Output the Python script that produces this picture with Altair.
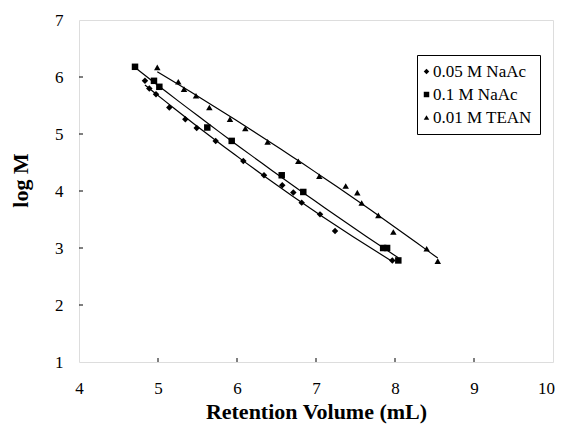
import altair as alt
import pandas as pd

series_names = ["0.05 M NaAc", "0.1 M NaAc", "0.01 M TEAN"]

x_naac005 = [4.835, 4.890, 4.975, 5.143, 5.346, 5.490, 5.730, 6.080, 6.342, 6.573, 6.713, 6.819, 7.051, 7.241, 7.966]
y_naac005 = [5.933, 5.800, 5.699, 5.466, 5.260, 5.107, 4.879, 4.527, 4.276, 4.100, 3.972, 3.796, 3.590, 3.297, 2.782]

x_naac01 = [4.709, 4.949, 5.017, 5.624, 5.933, 6.566, 6.839, 7.850, 7.900, 8.042]
y_naac01 = [6.179, 5.933, 5.828, 5.114, 4.879, 4.276, 3.983, 3.000, 3.000, 2.782]

x_tean = [4.991, 5.257, 5.329, 5.481, 5.650, 5.911, 6.105, 6.388, 6.776, 7.042, 7.376, 7.523, 7.578, 7.789, 7.979, 8.401, 8.541]
y_tean = [6.169, 5.916, 5.787, 5.670, 5.466, 5.260, 5.097, 4.861, 4.522, 4.258, 4.088, 3.972, 3.789, 3.573, 3.280, 2.988, 2.770]

x_ticks = [4, 5, 6, 7, 8, 9, 10]
y_ticks = [1, 2, 3, 4, 5, 6, 7]
x_inner_ticks = [5, 6, 7, 8, 9]
y_inner_ticks = [2, 3, 4, 5, 6]

frames = []
for name, xs, ys in [(series_names[0], x_naac005, y_naac005),
                     (series_names[1], x_naac01, y_naac01),
                     (series_names[2], x_tean, y_tean)]:
    frames.append(pd.DataFrame({"x": xs, "y": ys, "series": name}))
df = pd.concat(frames, ignore_index=True)

W, H = 474, 342
FONT = "Liberation Serif"

xscale = alt.Scale(domain=[4, 10], nice=False, zero=False)
yscale = alt.Scale(domain=[1, 7], nice=False, zero=False)

xaxis = alt.Axis(values=x_ticks, format="d", title="Retention Volume (mL)", grid=False, domain=False,
                 tickSize=0, labelPadding=18, labelFontSize=17, labelFont=FONT, labelColor="black",
                 labelOffset={"expr": "datum.value == 10 ? -7 : 0"},
                 titleFont=FONT, titleFontSize=22, titleFontWeight="bold", titleColor="black",
                 titleY=56, titleBaseline="alphabetic", labelFlush=False)
yaxis = alt.Axis(values=y_ticks, format="d", title="log M", grid=False, domain=False,
                 tickSize=0, labelPadding=16, labelFontSize=17, labelFont=FONT, labelColor="black",
                 titleFont=FONT, titleFontSize=22, titleFontWeight="bold", titleColor="black",
                 titleX=-59, titleY=160, titleAngle=270, titleAlign="center", titleBaseline="middle",
                 labelFlush=False)

base = alt.Chart(df)

lines = base.transform_regression(
    "x", "y", groupby=["series"], method="poly", order=2
).mark_line(color="black", strokeWidth=1.2).encode(
    x=alt.X("x:Q", scale=xscale, axis=xaxis),
    y=alt.Y("y:Q", scale=yscale, axis=yaxis),
    detail="series:N",
)

points = base.mark_point(filled=True, opacity=1, color="black", size=42).encode(
    x=alt.X("x:Q", scale=xscale),
    y=alt.Y("y:Q", scale=yscale),
    shape=alt.Shape("series:N",
                    scale=alt.Scale(domain=series_names, range=["diamond", "square", "triangle-up"]),
                    legend=alt.Legend(title=None, orient="none", legendX=338, legendY=35,
                                      strokeColor="black", fillColor="white", padding=8,
                                      labelFont=FONT, labelFontSize=17, labelColor="black",
                                      symbolSize=30, symbolFillColor="black", symbolStrokeColor="black",
                                      symbolStrokeWidth=0, rowPadding=5,
                                      symbolOffset={"expr": "-7"},
                                      labelOffset={"expr": "-2"})),
)

xt = alt.Chart(pd.DataFrame({"t": x_inner_ticks})).mark_rule(color="black", strokeWidth=1).encode(
    x=alt.X("t:Q", scale=xscale), y=alt.value(H), y2=alt.value(H - 4))
yt = alt.Chart(pd.DataFrame({"t": y_inner_ticks})).mark_rule(color="black", strokeWidth=1).encode(
    y=alt.Y("t:Q", scale=yscale), x=alt.value(0), x2=alt.value(4))

chart = alt.layer(lines, points, xt, yt).properties(
    width=W, height=H,
    autosize=alt.AutoSizeParams(type="none"),
    padding={"left": 71, "top": 12, "right": 2, "bottom": 62},
).configure_view(stroke="black", strokeWidth=1).configure(background="white")

chart.save("out.html", embed_options={"renderer": "svg", "actions": False})
